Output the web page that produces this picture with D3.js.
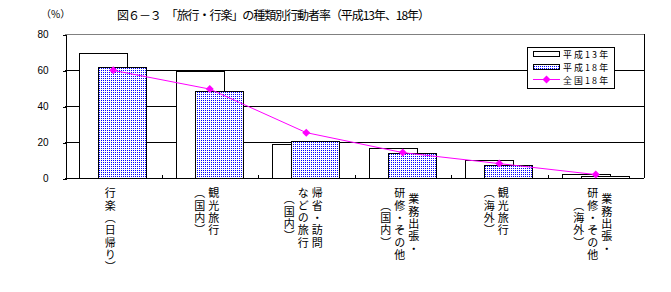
<!DOCTYPE html>
<html>
<head>
<meta charset="utf-8">
<script src="https://cdn.jsdelivr.net/npm/d3@7"></script>
<style>
  body { margin: 0; background: #fff; }
  text { font-family: "Noto Sans CJK JP", sans-serif; fill: #000; }
</style>
</head>
<body>
<div id="chart"></div>
<script>
// data
const categories = ['行楽（日帰り）', '観光旅行（国内）', '帰省・訪問などの旅行（国内）',
  '業務出張・研修・その他（国内）', '観光旅行（海外）', '業務出張・研修・その他（海外）'];
// label split into vertical columns, right to left
const labelLines = [
  ['行楽（日帰り）'],
  ['観光旅行', '（国内）'],
  ['帰省・訪問', 'などの旅行', '（国内）'],
  ['業務出張・', '研修・その他', '（国内）'],
  ['観光旅行', '（海外）'],
  ['業務出張・', '研修・その他', '（海外）']
];
const h13 = [69.3, 59.7, 19.1, 16.5, 10.2, 2.2];
const h18 = [61.5, 48.1, 20.4, 13.7, 7.0, 1.3];
const zenkoku18 = [59.8, 49.4, 25.2, 14.1, 8.0, 1.9];
const yTicks = [0, 20, 40, 60, 80];
const seriesNames = ['平成13年', '平成18年', '全国18年'];

const W = 671, H = 292;
const margin = { top: 34, right: 27, bottom: 114, left: 65 };
const width = W - margin.left - margin.right;
const height = H - margin.top - margin.bottom;

const svg = d3.select('#chart').append('svg')
  .attr('width', W).attr('height', H);

// dotted fill for the 平成18年 bars: one blue pixel per 2x2 cell
const defs = svg.append('defs');
const pat = defs.append('pattern')
  .attr('id', 'dots')
  .attr('patternUnits', 'userSpaceOnUse')
  .attr('width', 2).attr('height', 2)
  .attr('shape-rendering', 'crispEdges');
pat.append('rect').attr('width', 2).attr('height', 2).attr('fill', '#fff');
pat.append('rect').attr('width', 1).attr('height', 1).attr('fill', '#0000ff');

const g = svg.append('g')
  .attr('transform', 'translate(' + margin.left + ',' + margin.top + ')')
  .attr('shape-rendering', 'crispEdges');

const x = d3.scaleBand().domain(categories).range([0, width]).padding(0);
const y = d3.scaleLinear().domain([0, 80]).range([height, 0]);

// grid lines
g.selectAll('.grid')
  .data(yTicks.filter(d => d > 0 && d < 80))
  .enter().append('line')
  .attr('x1', 0).attr('x2', width)
  .attr('y1', d => Math.round(y(d)) + 0.5).attr('y2', d => Math.round(y(d)) + 0.5)
  .attr('stroke', '#000');
g.append('line')
  .attr('x1', 0).attr('x2', width)
  .attr('y1', y(80) + 0.5).attr('y2', y(80) + 0.5)
  .attr('stroke', '#808080');
g.append('line')
  .attr('x1', width + 0.5).attr('x2', width + 0.5)
  .attr('y1', y(80)).attr('y2', y(0))
  .attr('stroke', '#000');

// y axis
const yAxis = g.append('g')
  .attr('transform', 'translate(0.5,0.5)')
  .call(d3.axisLeft(y).tickValues(yTicks).tickSize(3).tickPadding(14));
yAxis.select('.domain').attr('stroke', '#000');
yAxis.selectAll('text')
  .style('font-family', 'Arial, "Liberation Sans", sans-serif')
  .style('font-size', '10px');

const barW = 48;
// 平成13年
g.selectAll('.b13')
  .data(h13)
  .enter().append('rect')
  .attr('x', (d, i) => Math.round(x(categories[i]) + x.bandwidth() / 2 - 34) + 0.5)
  .attr('y', d => Math.round(y(d)) + 0.5)
  .attr('width', barW)
  .attr('height', d => Math.round(y(0)) - Math.round(y(d)))
  .attr('fill', '#fff')
  .attr('stroke', '#000');
// 平成18年
g.selectAll('.b18')
  .data(h18)
  .enter().append('rect')
  .attr('x', (d, i) => Math.round(x(categories[i]) + x.bandwidth() / 2 - 15) + 0.5)
  .attr('y', d => Math.round(y(d)) + 0.5)
  .attr('width', barW)
  .attr('height', d => Math.round(y(0)) - Math.round(y(d)))
  .attr('fill', 'url(#dots)')
  .attr('stroke', '#000');

// x axis
g.append('line')
  .attr('x1', 0).attr('x2', width)
  .attr('y1', Math.round(y(0)) + 0.5).attr('y2', Math.round(y(0)) + 0.5)
  .attr('stroke', '#000');
g.selectAll('.xtick')
  .data(categories.slice(1))
  .enter().append('line')
  .attr('x1', d => Math.round(x(d)) + 0.5).attr('x2', d => Math.round(x(d)) + 0.5)
  .attr('y1', Math.round(y(0))).attr('y2', Math.round(y(0)) - 3)
  .attr('stroke', '#000');

// 全国18年 line
const line = d3.line()
  .x((d, i) => x(categories[i]) + x.bandwidth() / 2)
  .y(d => y(d));
g.append('path')
  .datum(zenkoku18)
  .attr('d', line)
  .attr('fill', 'none')
  .attr('stroke', '#ff00ff')
  .attr('stroke-width', 1)
  .attr('shape-rendering', 'auto');
const diamond = 'M0,-4L4,0L0,4L-4,0Z';
g.selectAll('.mk')
  .data(zenkoku18)
  .enter().append('path')
  .attr('d', diamond)
  .attr('transform', (d, i) => 'translate(' + (x(categories[i]) + x.bandwidth() / 2) + ',' + y(d) + ')')
  .attr('fill', '#ff00ff')
  .attr('shape-rendering', 'auto');

// vertical category labels, one text per character, stacked in columns
const charH = 12.3, colGap = 14, labelTop = y(0) + 9;
labelLines.forEach((cols, i) => {
  const cx = x(categories[i]) + x.bandwidth() / 2 - 3;
  const maxLen = d3.max(cols, c => c.length);
  const cy = labelTop + maxLen * charH / 2;
  cols.forEach((col, k) => {
    const colX = cx + ((cols.length - 1) / 2 - k) * colGap;
    const chars = Array.from(col);
    g.selectAll(null)
      .data(chars)
      .enter().append('text')
      .attr('x', colX)
      .attr('y', (c, j) => cy + (j - (chars.length - 1) / 2) * charH)
      .attr('text-anchor', 'middle')
      .style('writing-mode', 'vertical-rl')
      .style('font-size', '11px')
      .text(c => c);
  });
});

// legend
const lg = svg.append('g').attr('shape-rendering', 'crispEdges');
lg.append('rect')
  .attr('x', 527.5).attr('y', 47.5).attr('width', 87).attr('height', 41)
  .attr('fill', '#fff').attr('stroke', '#000');
const rowY = [54, 67, 80];
lg.append('rect').attr('x', 533.5).attr('y', rowY[0] - 2.5).attr('width', 26).attr('height', 5)
  .attr('fill', '#fff').attr('stroke', '#000');
lg.append('rect').attr('x', 533.5).attr('y', rowY[1] - 2.5).attr('width', 26).attr('height', 5)
  .attr('fill', 'url(#dots)').attr('stroke', '#000');
lg.append('line').attr('x1', 533).attr('x2', 560).attr('y1', rowY[2] - 0.5).attr('y2', rowY[2] - 0.5)
  .attr('stroke', '#ff00ff');
lg.append('path').attr('d', diamond)
  .attr('transform', 'translate(546.5,' + (rowY[2] - 0.5) + ')')
  .attr('fill', '#ff00ff').attr('shape-rendering', 'auto');
lg.selectAll('.lt')
  .data(seriesNames)
  .enter().append('text')
  .attr('x', 563).attr('y', (d, i) => rowY[i] + 3.5)
  .attr('textLength', 45).attr('lengthAdjust', 'spacing')
  .style('font-size', '8.9px')
  .text(d => d);

// titles
svg.append('text')
  .attr('x', 117).attr('y', 20)
  .attr('textLength', 313).attr('lengthAdjust', 'spacing')
  .style('font-size', '12px')
  .text('図６－３　「旅行・行楽」の種類別行動者率（平成13年、18年）');
svg.append('text')
  .attr('x', 41).attr('y', 18)
  .style('font-size', '10px')
  .text('（%）');
</script>
</body>
</html>
